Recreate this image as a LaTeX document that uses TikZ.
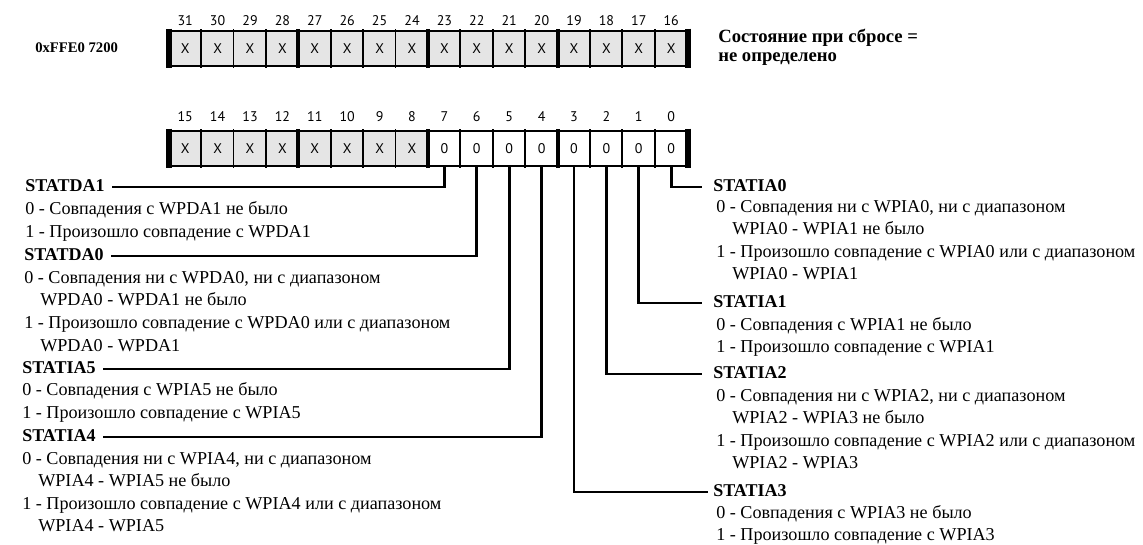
\documentclass[tikz,border=0pt]{standalone}
\usepackage{fontspec}
\setmainfont{Liberation Serif}
\newfontfamily\bitfont{PT Sans}
\usetikzlibrary{calc}
\tikzset{>=latex}
\tikzset{
  cell/.style={minimum width=24.3pt,minimum height=26.25pt,inner sep=0pt,
    font=\bitfont\fontsize{10.5}{12}\selectfont},
  xcell/.style={cell,fill=black!10},
  zcell/.style={cell,fill=white},
  bitno/.style={inner sep=0pt,font=\bitfont\fontsize{10.5}{12}\selectfont},
  field/.style={anchor=west,inner sep=0pt,text height=10pt,text depth=3pt,
    font=\bfseries\fontsize{13.5}{15}\selectfont},
  desc/.style={anchor=west,inner sep=0pt,text height=10pt,text depth=3pt,
    font=\fontsize{13.6}{15}\selectfont},
  leader/.style={line width=2pt},
}

\begin{document}
\begin{tikzpicture}[x=0.75pt,y=-0.75pt]
  \useasboundingbox (0,0) rectangle (1143,545);

  % upper half, bits 31..16
  \node[anchor=west,inner sep=0pt,font=\bfseries\fontsize{11}{13}\selectfont] (addr) at (35,48) {0xFFE0 7200};
  \foreach \i in {0,...,15} {
    \pgfmathtruncatemacro\bitn{31-\i}
    \node[xcell] (hi\bitn) at ({169+32.4*(\i+0.5)},48.5) {X};
    \node[bitno] (nhi\bitn) at ({169+32.4*(\i+0.5)},21) {\bitn};
  }
  \draw[line width=1.5pt] (hi31.north west) -- (hi16.north east);
  \draw[line width=1.5pt] (hi31.south west) -- (hi16.south east);
  \foreach \bitn in {16,...,30} {
    \pgfmathsetmacro\lw{mod(\bitn,4)==3 ? 3 : 1.3}
    \draw[line width=\lw pt,shorten <=-1pt,shorten >=-1pt] (hi\bitn.north west) -- (hi\bitn.south west);
  }
  \draw[line width=4.5pt,shorten <=-1.5pt,shorten >=-1.5pt] (hi31.north west) -- (hi31.south west);
  \draw[line width=4.5pt,shorten <=-1.5pt,shorten >=-1.5pt] (hi16.north east) -- (hi16.south east);
  \node[anchor=west,align=left,inner sep=0pt,font=\bfseries\fontsize{14}{14}\selectfont] (reset) at (718,47)
    {Состояние при сбросе =\\не определено};

  % lower half, bits 15..0
  \foreach \i in {0,...,7} {
    \pgfmathtruncatemacro\bitn{15-\i}
    \node[xcell] (lo\bitn) at ({169+32.4*(\i+0.5)},148.5) {X};
    \node[bitno] (nlo\bitn) at ({169+32.4*(\i+0.5)},117) {\bitn};
  }
  \foreach \i in {8,...,15} {
    \pgfmathtruncatemacro\bitn{15-\i}
    \node[zcell] (lo\bitn) at ({169+32.4*(\i+0.5)},148.5) {0};
    \node[bitno] (nlo\bitn) at ({169+32.4*(\i+0.5)},117) {\bitn};
  }
  \draw[line width=1.5pt] (lo15.north west) -- (lo0.north east);
  \draw[line width=1.5pt] (lo15.south west) -- (lo0.south east);
  \foreach \bitn in {0,...,14} {
    \pgfmathsetmacro\lw{mod(\bitn,4)==3 ? 3 : 1.3}
    \draw[line width=\lw pt,shorten <=-1pt,shorten >=-1pt] (lo\bitn.north west) -- (lo\bitn.south west);
  }
  \draw[line width=4.5pt,shorten <=-1.5pt,shorten >=-1.5pt] (lo15.north west) -- (lo15.south west);
  \draw[line width=4.5pt,shorten <=-1.5pt,shorten >=-1.5pt] (lo0.north east) -- (lo0.south east);

  % left fields
  \node[field] (statda1) at (25,187) {STATDA1};
  \node[desc] (statda1-0) at (25,210) {0 - Совпадения с WPDA1 не было};
  \node[desc] (statda1-1) at (25,233) {1 - Произошло совпадение с WPDA1};
  \node[field] (statda0) at (24,256) {STATDA0};
  \node[desc] (statda0-0) at (24,279) {0 - Совпадения ни с WPDA0, ни с диапазоном};
  \node[desc] (statda0-0b) at (40,301) {WPDA0 - WPDA1 не было};
  \node[desc] (statda0-1) at (24,324) {1 - Произошло совпадение с WPDA0 или с диапазоном};
  \node[desc] (statda0-1b) at (40,347) {WPDA0 - WPDA1};
  \node[field] (statia5) at (22,369) {STATIA5};
  \node[desc] (statia5-0) at (22,391) {0 - Совпадения с WPIA5 не было};
  \node[desc] (statia5-1) at (22,414) {1 - Произошло совпадение с WPIA5};
  \node[field] (statia4) at (22,437) {STATIA4};
  \node[desc] (statia4-0) at (22,460) {0 - Совпадения ни с WPIA4, ни с диапазоном};
  \node[desc] (statia4-0b) at (38,482) {WPIA4 - WPIA5 не было};
  \node[desc] (statia4-1) at (22,505) {1 - Произошло совпадение с WPIA4 или с диапазоном};
  \node[desc] (statia4-1b) at (38,527) {WPIA4 - WPIA5};

  % right fields
  \node[field] (statia0) at (713,187) {STATIA0};
  \node[desc] (statia0-0) at (716,208) {0 - Совпадения ни с WPIA0, ни с диапазоном};
  \node[desc] (statia0-0b) at (732,230) {WPIA0 - WPIA1 не было};
  \node[desc] (statia0-1) at (716,253) {1 - Произошло совпадение с WPIA0 или с диапазоном};
  \node[desc] (statia0-1b) at (732,275) {WPIA0 - WPIA1};
  \node[field] (statia1) at (713,303) {STATIA1};
  \node[desc] (statia1-0) at (716,326) {0 - Совпадения с WPIA1 не было};
  \node[desc] (statia1-1) at (716,348) {1 - Произошло совпадение с WPIA1};
  \node[field] (statia2) at (713,374) {STATIA2};
  \node[desc] (statia2-0) at (716,397) {0 - Совпадения ни с WPIA2, ни с диапазоном};
  \node[desc] (statia2-0b) at (732,419) {WPIA2 - WPIA3 не было};
  \node[desc] (statia2-1) at (716,442) {1 - Произошло совпадение с WPIA2 или с диапазоном};
  \node[desc] (statia2-1b) at (732,464) {WPIA2 - WPIA3};
  \node[field] (statia3) at (713,492) {STATIA3};
  \node[desc] (statia3-0) at (716,514) {0 - Совпадения с WPIA3 не было};
  \node[desc] (statia3-1) at (716,536) {1 - Произошло совпадение с WPIA3};

  % leaders
  \draw[leader,shorten >=5pt] (lo7.south) |- (statda1.east);
  \draw[leader,shorten >=5pt] (lo6.south) |- (statda0.east);
  \draw[leader,shorten >=5pt] (lo5.south) |- (statia5.east);
  \draw[leader,shorten >=5pt] (lo4.south) |- (statia4.east);
  \draw[leader,shorten >=4pt] (lo3.south) |- (statia3.west);
  \draw[leader,shorten >=8pt] (lo2.south) |- (statia2.west);
  \draw[leader,shorten >=8pt] (lo1.south) |- (statia1.west);
  \draw[leader,shorten >=8pt] (lo0.south) |- (statia0.west);
\end{tikzpicture}
\end{document}
